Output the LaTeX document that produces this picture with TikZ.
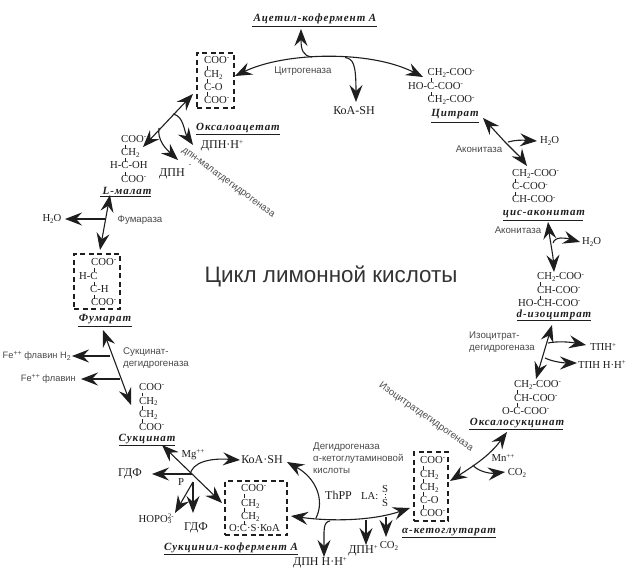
\documentclass[tikz,border=0pt]{standalone}
\usepackage{fontspec}
\usepackage{graphicx}
\setmainfont{Liberation Serif}
\newfontfamily\sansf{Liberation Sans}
\newfontfamily\labf[LetterSpace=8.5]{Liberation Serif}
\usetikzlibrary{arrows.meta,calc}
\newcommand{\dn}[1]{\raisebox{-0.35ex}{\fontsize{7}{7}\selectfont #1}}
\newcommand{\ap}[1]{\raisebox{0.75ex}{\fontsize{7}{7}\selectfont #1}}
\definecolor{ink}{HTML}{1E1E1E}
\definecolor{soft}{HTML}{4A4A4A}
\tikzset{
  x=1pt,y=-1pt,
  >={Stealth[length=17pt,width=13pt,inset=6pt]},
  chem/.style={inner sep=0pt,anchor=base west,text=ink,font=\fontsize{10.7}{11}\selectfont},
  chemc/.style={inner sep=0pt,text=ink,font=\fontsize{10.7}{11}\selectfont},
  chemb/.style={inner sep=0pt,text=ink,font=\fontsize{12}{13}\selectfont},
  enz/.style={inner sep=0pt,text=soft,font=\sansf\fontsize{9.7}{11.6}\selectfont},
  sname/.style={inner sep=0pt,text=ink,font=\labf\bfseries\itshape\fontsize{11}{12}\selectfont},
  urule/.style={draw=ink,line width=0.8pt},
  conn/.style={draw=ink,line width=1.1pt},
  bond/.style={draw=ink,line width=0.8pt},
  dbox/.style={draw=ink,line width=1.2pt,dash pattern=on 5pt off 3.5pt,inner sep=0pt},
}
\newcommand{\bnd}[2]{\draw[bond] (#1,#2-1.6) -- (#1,#2+1.6);}
\begin{document}
\begin{tikzpicture}
\useasboundingbox (0,0) rectangle (632,569);
\fill[white] (0,0) rectangle (632,569);

% title
\node[inner sep=0pt,text=black!80,font=\sansf\fontsize{22.4}{24}\selectfont] (title) at (331,276) {Цикл лимонной кислоты};

% dashed boxes
\node[dbox,minimum width=37pt,minimum height=55pt] (boxOxa) at (215.5,80.5) {};
\node[dbox,minimum width=46pt,minimum height=55pt] (boxFum) at (97,281.5) {};
\node[dbox,minimum width=62pt,minimum height=54pt] (boxSuc) at (256,508) {};
\node[dbox,minimum width=34pt,minimum height=69pt] (boxKet) at (431,486.5) {};

% oxaloacetate
\node[chem] (o1) at (204,63.5) {COO\ap{-}};
\node[chem] (o2) at (204,77.5) {CH\dn{2}};
\node[chem] (o3) at (204,90.5) {C-O};
\node[chem] (o4) at (204,103.5) {COO\ap{-}};
\bnd{207.5}{68}\bnd{207.5}{81}\bnd{207.5}{94}
\node[sname] (lOxa) at (238,128) {Оксалоацетат};
\draw[urule] (196,134) -- (280,134);
\node[chemb] (dpnh1) at (222,146) {ДПН·Н\ap{+}};

% acetyl
\node[sname] (lAce) at (315,19) {Ацетил-кофермент А};
\draw[urule] (252,26) -- (377,26);
\node[chemb] (koa1) at (354,111) {КоА-SH};
\node[enz] (citg) at (303,71) {Цитрогеназа};

% citrate
\node[chem] (c1) at (427.5,76) {CH\dn{2}-COO\ap{-}};
\node[chem] (c2) at (408,89.5) {HO-C-COO\ap{-}};
\node[chem] (c3) at (427.5,103) {CH\dn{2}-COO\ap{-}};
\bnd{431}{80}\bnd{431}{94}
\node[sname] (lCit) at (455,114) {Цитрат};
\draw[urule] (431,122) -- (479,122);

% cis-aconitate
\node[enz] (ac1) at (479,149) {Аконитаза};
\node[chemc,anchor=west] (w1) at (540,141) {H\dn{2}O};
\node[chem] (a1) at (512,176.5) {CH\dn{2}-COO\ap{-}};
\node[chem] (a2) at (512,190) {C-COO\ap{-}};
\node[chem] (a3) at (512,203) {CH-COO\ap{-}};
\bnd{515.5}{181}\bnd{515.5}{194}
\node[sname] (lAco) at (544,214) {цис-аконитат};
\draw[urule] (503,220) -- (583,220);
\node[enz] (ac2) at (518,230) {Аконитаза};
\node[chemc,anchor=west] (w2) at (582,242) {H\dn{2}O};

% isocitrate
\node[chem] (i1) at (537,280) {CH\dn{2}-COO\ap{-}};
\node[chem] (i2) at (537,293.5) {CH-COO\ap{-}};
\node[chem] (i3) at (518,306.5) {HO-CH-COO\ap{-}};
\bnd{540.5}{284}\bnd{540.5}{298}
\node[sname] (lIso) at (554,315) {d-изоцитрат};
\draw[urule] (517,320.5) -- (591,320.5);
\node[enz,align=left,anchor=north west] (ig) at (469,332) {Изоцитрат-\\дегидрогеназа};
\node[chem] (tpn) at (590,351) {ТПН\ap{+}};
\node[chem] (tpnh) at (578,368) {ТПН Н·Н\ap{+}};

% oxalosuccinate
\node[chem] (s1) at (514,387.5) {CH\dn{2}-COO\ap{-}};
\node[chem] (s2) at (514,401.5) {CH-COO\ap{-}};
\node[chem] (s3) at (502,414.5) {O-C-COO\ap{-}};
\bnd{517.5}{392}\bnd{517.5}{405}
\node[sname] (lOxs) at (517,423) {Оксалосукцинат};
\draw[urule] (469,429) -- (563,429);
\node[enz,rotate=-35] (idg) at (426,417) {Изоцитратдегидрогеназа};
\node[chemc] (mn) at (503,458) {Mn\ap{++}};
\node[chemc] (co1) at (517,473) {CO\dn{2}};

% ketoglutarate
\node[chem] (k1) at (420,463.5) {COO\ap{-}};
\node[chem] (k2) at (420,477.5) {CH\dn{2}};
\node[chem] (k3) at (420,490.5) {CH\dn{2}};
\node[chem] (k4) at (420,503.5) {C-O};
\node[chem] (k5) at (420,516.5) {COO\ap{-}};
\bnd{423.5}{468}\bnd{423.5}{481}\bnd{423.5}{494}\bnd{423.5}{507}
\node[sname] (lKet) at (449,532) {α-кетоглутарат};
\draw[urule] (402,537) -- (496,537);
\node[chemc] (s5) at (385,489.5) {S};
\node[chemc] (s6) at (385,503.5) {S};
\draw[bond,dotted] (385,494) -- (385,499);
\node[chemc,anchor=base west] (la) at (361,499.5) {LA:};
\node[chemb,anchor=base west] (thpp) at (325,499.5) {ThPP};
\node[enz,align=left,anchor=north west] (dg) at (313,443) {Дегидрогеназа\\α-кетоглутаминовой\\кислоты};
\node[chemc] (co2) at (389,546) {CO\dn{2}};
\node[chemb] (dpnp) at (363,551) {ДПН\ap{+}};
\node[chemb] (dpnhh) at (320,563) {ДПН Н·Н\ap{+}};

% succinyl
\node[chem] (u1) at (241,491.5) {COO\ap{-}};
\node[chem] (u2) at (241,506.5) {CH\dn{2}};
\node[chem] (u3) at (241,519.5) {CH\dn{2}};
\node[chem] (u4) at (229,531.5) {O:C·S·КоА};
\bnd{244.5}{496}\bnd{244.5}{510}\bnd{244.5}{523}
\node[sname] (lSuc) at (231,548) {Сукцинил-кофермент А};
\draw[urule] (164,554) -- (298,554);
\node[chemb] (koa2) at (262,460) {КоА·SH};
\node[chemc] (mg) at (193,455) {Mg\ap{++}};
\node[chemc] (p) at (181,482) {P};
\node[chemb] (gdf1) at (130,474) {ГДФ};
\node[chemc] (hopo) at (155,519) {НОРО\ap{2-}\hspace{-6pt}\dn{3}};
\node[chemb] (gdf2) at (196,528) {ГДФ};

% succinate
\node[chem] (v1) at (139,390) {COO\ap{-}};
\node[chem] (v2) at (139,404) {CH\dn{2}};
\node[chem] (v3) at (139,417.5) {CH\dn{2}};
\node[chem] (v4) at (139,430.5) {COO\ap{-}};
\bnd{142.5}{394.5}\bnd{142.5}{408}\bnd{142.5}{421}
\node[sname] (lSuk) at (147,439) {Сукцинат};
\draw[urule] (119,445) -- (175,445);
\node[enz,align=left,anchor=north west] (sdg) at (123,348) {Сукцинат-\\дегидрогеназа};
\node[enz,anchor=east,font=\sansf\fontsize{9.3}{11}\selectfont] (fe1) at (71,356) {Fe\ap{++} флавин H\dn{2}};
\node[enz,anchor=east,font=\sansf\fontsize{9.3}{11}\selectfont] (fe2) at (76,379) {Fe\ap{++} флавин};

% fumarate
\node[chem] (f1) at (91,265.5) {COO\ap{-}};
\node[chem] (f2) at (79,279.5) {H-C};
\node[chem] (f3) at (90,292.5) {C-H};
\node[chem] (f4) at (91,305.5) {COO\ap{-}};
\bnd{94.5}{270}\bnd{94.5}{284}\bnd{94.5}{297}
\node[sname] (lFum) at (105,319) {Фумарат};
\draw[urule] (78,326) -- (132,326);

% malate
\node[chem] (m1) at (121,142.5) {COO\ap{-}};
\node[chem] (m2) at (121,156) {CH\dn{2}};
\node[chem] (m3) at (110,169) {H-C-OH};
\node[chem] (m4) at (121,182.5) {COO\ap{-}};
\bnd{125}{147}\bnd{125}{160}\bnd{125}{174}
\node[sname] (lMal) at (127,191) {L-малат};
\draw[urule] (100,196) -- (151,196);
\node[enz] (fum) at (140,220) {Фумараза};
\node[chemc] (w3) at (52,219) {H\dn{2}O};
\node[chemb] (dpn) at (172,174) {ДПН};
\node[chemc] (dpnm) at (190,167) {\ap{-}};
\node[enz,rotate=-36] (mdg) at (228,183) {дпн-малатдегидрогеназа};

% named points of the connectors
\coordinate (pA) at (235,76);
\coordinate (pB) at (423,77);
\coordinate (pC) at (301,29);
\coordinate (pCs) at (312,57);
\coordinate (pD) at (356,102);
\coordinate (pDs) at (345,57.5);
\coordinate (pE) at (193,94);
\coordinate (pF) at (143,147);
\coordinate (pG) at (173,114);
\coordinate (pH) at (193,145);
\coordinate (pI) at (159,128);
\coordinate (pJ) at (178,160);
\coordinate (pK) at (483,118);
\coordinate (pL) at (527,166);
\coordinate (pM) at (508,142);
\coordinate (pN) at (537,141);
\coordinate (pO) at (548,222);
\coordinate (pP) at (554,272);
\coordinate (pQ) at (553,243);
\coordinate (pR) at (580,242);
\coordinate (pS) at (552,325);
\coordinate (pT) at (536,379);
\coordinate (pU) at (548,343);
\coordinate (pV) at (586,345);
\coordinate (pW) at (545,358);
\coordinate (pX) at (577,363);
\coordinate (qA) at (507,432);
\coordinate (qB) at (450,481);
\coordinate (qC) at (473,465);
\coordinate (qD) at (505,472);
\coordinate (qE) at (410,508);
\coordinate (qF) at (291,516);
\coordinate (qG) at (316,518);
\coordinate (qH) at (287,462);
\coordinate (qI) at (330,521);
\coordinate (qJ) at (324,557);
\coordinate (qK) at (366,520);
\coordinate (qL) at (366,545);
\coordinate (qM) at (386,517);
\coordinate (qN) at (386,537);
\coordinate (qO) at (162,445);
\coordinate (qP) at (222,503);
\coordinate (qQ) at (190,475);
\coordinate (qR) at (240,460);
\coordinate (qS) at (192,474);
\coordinate (qT) at (152,474);
\coordinate (qU) at (193,482);
\coordinate (qV) at (175,513);
\coordinate (qW) at (193,513);
\coordinate (rA) at (103,330);
\coordinate (rB) at (131,405);
\coordinate (rC) at (110,356);
\coordinate (rD) at (72,356);
\coordinate (rE) at (120,379);
\coordinate (rF) at (81,379);
\coordinate (rG) at (110,195);
\coordinate (rH) at (100,250);
\coordinate (rI) at (105,219);
\coordinate (rJ) at (65,219);

% connectors, clockwise from the top
\draw[conn,<->] (pA) .. controls (285,52) and (370,50) .. (pB);
\draw[conn,->] (pCs) .. controls (303,56) and (301,50) .. (pC);
\draw[conn,->] (pDs) .. controls (353,59) and (356,63) .. (pD);
\draw[conn,<->] (pF) -- (pE);
\draw[conn,->] (pG) .. controls (184,116) and (184,132) .. (pH);
\draw[conn,->] (pI) .. controls (157,140) and (166,149) .. (pJ);
\draw[conn,<->] (pK) -- (505,142) .. controls (515,152) and (521,158) .. (pL);
\draw[conn,->] (pM) .. controls (515,140) and (522,140) .. (pN);
\draw[conn,<->] (pO) .. controls (550,240) and (553,255) .. (pP);
\draw[conn,->] (pQ) .. controls (555,236) and (566,238) .. (pR);
\draw[conn,<->] (pS) -- (pT);
\draw[conn,->] (pU) .. controls (558,341) and (570,342) .. (pV);
\draw[conn,->] (pW) .. controls (553,362) and (565,363) .. (pX);
\draw[conn,<->] (qA) .. controls (490,455) and (475,465) .. (qB);
\draw[conn,->] (qC) .. controls (476,470) and (488,474) .. (qD);
\draw[conn,<->] (qE) .. controls (375,520) and (335,522) .. (qF);
\draw[conn,->] (qG) .. controls (325,500) and (316,478) .. (qH);
\draw[conn,->] (qI) .. controls (323,522) and (324,530) .. (qJ);
\draw[conn,->] (qK) -- (qL);
\draw[conn,->] (qM) -- (qN);
\draw[conn,<->] (qO) -- (qP);
\draw[conn,->] (qQ) .. controls (192,462) and (210,458) .. (qR);
\draw[conn,->] (qS) -- (qT);
\draw[conn,->] (qU) -- (qV);
\draw[conn,->] (qU) -- (qW);
\draw[conn,<->] (rA) -- (rB);
\draw[conn,->] (rC) -- (rD);
\draw[conn,->] (rE) -- (rF);
\draw[conn,<->] (rG) -- (rH);
\draw[conn,->] (rI) -- (rJ);
\end{tikzpicture}
\end{document}
